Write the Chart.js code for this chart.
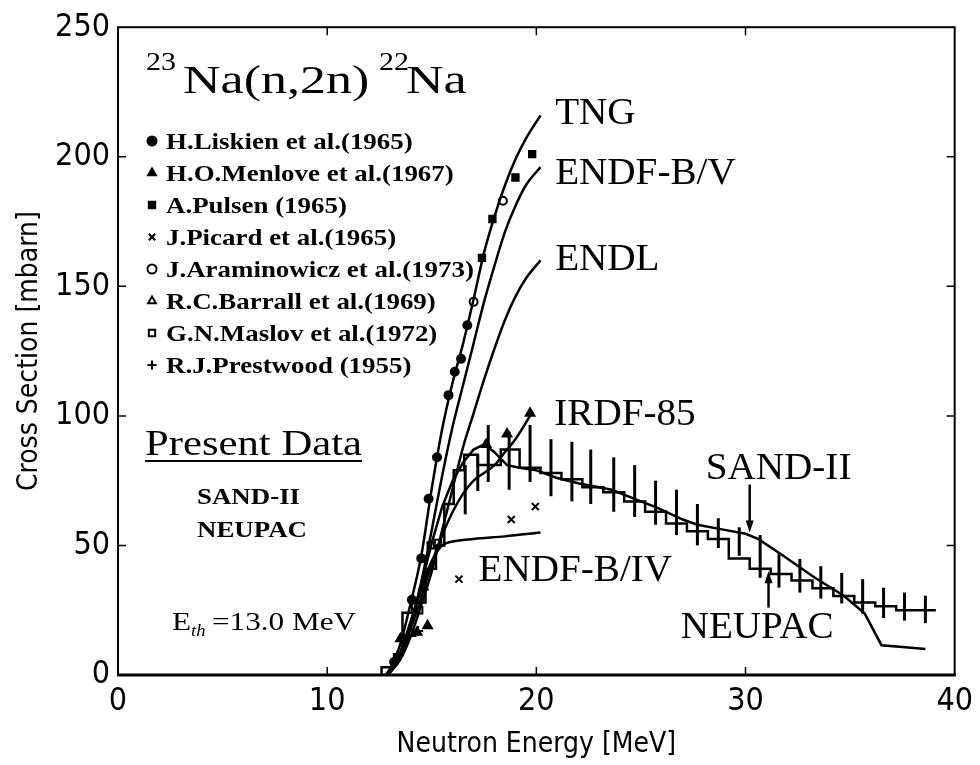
<!DOCTYPE html>
<html>
<head>
<meta charset="utf-8">
<script src="https://cdn.jsdelivr.net/npm/chart.js@4.4.1/dist/chart.umd.min.js"></script>
<style>
  html, body { margin: 0; padding: 0; background: #fff; }
</style>
</head>
<body>
<canvas id="chart" width="980" height="765"></canvas>
<script>
// axis ticks
const xTicks = [0, 10, 20, 30, 40];
const yTicks = [0, 50, 100, 150, 200, 250];

// evaluated curves (energy in MeV, cross section in mbarn)
const tngE = [12.9, 13.5, 14, 14.5, 15, 15.5, 16, 16.5, 17, 17.5, 18, 18.5, 19, 19.5, 20.2];
const tngXS = [0, 12, 28, 46, 72, 95, 113, 128, 145, 163, 177, 189, 199, 207, 216];

const endfbvE = [12.9, 13.5, 14, 14.5, 15, 15.5, 16, 16.5, 17, 17.5, 18, 18.5, 19, 19.5, 20.2];
const endfbvXS = [0, 8, 20, 36, 56, 77, 96, 112, 128, 144, 158, 171, 181, 189, 196];

const endlE = [12.9, 13.5, 14, 14.5, 15, 15.5, 16, 16.5, 17, 17.5, 18, 18.5, 19, 19.5, 20.2];
const endlXS = [0, 6, 15, 27, 40, 56, 72, 88, 101, 114, 126, 137, 146, 153, 160];

const endfbivE = [12.9, 13.5, 14, 14.5, 15, 15.5, 16, 17, 18.5, 20.2];
const endfbivXS = [0, 9, 21, 33, 44, 50, 51.5, 52.5, 53.5, 55];

const irdfE = [12.9, 13.5, 14, 14.5, 15, 15.5, 16, 16.5, 17, 17.5, 18, 18.5, 19, 19.7];
const irdfXS = [0, 7, 18, 30, 43, 54, 63, 70, 75, 78, 81, 86, 91, 100];

// present data
const sandE = [12.8, 13.5, 14, 14.5, 15, 15.5, 16, 16.5, 17, 17.5, 18, 18.6, 19.2, 20, 21, 22, 23.6, 25, 25.8, 27, 27.7, 29, 30, 30.6, 31.7, 33.3, 34.7, 35.7, 36.5, 37.5, 38.6];
const sandXS = [0, 8, 20, 35, 51, 65, 75, 82, 87, 89, 86, 81, 80, 79, 76, 74, 71.5, 67, 64.5, 60, 58, 56, 54.5, 52.5, 46.6, 37.6, 30.6, 23.7, 11.5, 10.8, 10];

// NEUPAC histogram: lower bin edges and bin values
const neupacEdges = [12.6, 13.2, 13.6, 14.05, 14.7, 15.2, 15.6, 16.05, 16.55, 17.2, 18.3, 19.2, 20.2, 21.2, 22.2, 23.2, 24.2, 25.2, 26.2, 27.2, 28.2, 29.2, 30.2, 31.2, 32.2, 33.2, 34.2, 35.2, 36.2, 37.2, 38.2, 39.1];
const neupacXS = [0, 3, 8, 24, 28, 41, 50, 66, 79, 85, 81, 87, 80, 78, 75.5, 72.5, 70.5, 67, 63, 58.5, 55.5, 52.5, 45, 41, 39, 36.5, 33.5, 30.5, 28, 26.5, 25, 25];

const errE = [16.6, 17.2, 17.7, 18.7, 19.7, 20.7, 21.7, 22.6, 23.7, 24.7, 25.7, 26.7, 27.7, 28.7, 29.7, 30.7, 31.6, 32.6, 33.6, 34.6, 35.6, 36.6, 37.6, 38.6];
const errLo = [62, 71, 74.5, 71.5, 74.5, 69, 67, 66, 63, 61, 58, 54, 50, 49, 46, 37.5, 33.7, 31.8, 29.5, 27.6, 23.7, 22, 21, 20];
const errHi = [81, 85, 96.5, 94, 96.5, 91, 90, 87, 84, 81, 75, 71.5, 66, 60.5, 57, 54, 47, 44.8, 42, 39.4, 37, 33.7, 31.8, 30.6];

// experimental points
const liskienE = [13.2, 13.7, 14.05, 14.5, 14.85, 15.25, 15.8, 16.1, 16.4, 16.7];
const liskienXS = [5, 14, 29, 45, 68, 84, 108, 117, 122, 135];
const menloveE = [13.5, 14.3, 14.8, 17.6, 18.6, 19.7];
const menloveXS = [14, 16.5, 19, 89, 93, 101];
const pulsenE = [17.4, 17.9, 19.0, 19.8];
const pulsenXS = [161, 176, 192, 201];
const picardE = [16.3, 18.8, 19.95];
const picardXS = [37, 60, 65];
const araminE = [17.0, 18.4];
const araminXS = [144, 183];
const barrallE = [14.0, 14.6];
const barrallXS = [16, 34];
const maslovE = [14.4, 14.95, 15.3];
const maslovXS = [25, 50, 51];
const prestwoodE = [13.6, 14.35];
const prestwoodXS = [14, 17];

const legendRefs = [
  ["H.Liskien et al.(1965)", "circle", true],
  ["H.O.Menlove et al.(1967)", "triangle", true],
  ["A.Pulsen (1965)", "rect", true],
  ["J.Picard et al.(1965)", "crossRot", false],
  ["J.Araminowicz et al.(1973)", "circle", false],
  ["R.C.Barrall et al.(1969)", "triangle", false],
  ["G.N.Maslov et al.(1972)", "rect", false],
  ["R.J.Prestwood (1955)", "cross", false]
];

function pts(xs, ys) {
  return xs.map((v, i) => ({ x: v, y: ys[i] }));
}

const SERIF = '"Liberation Serif", "Times New Roman", serif';
const PLOT = '"DejaVu Sans Condensed", "Liberation Sans Narrow", "DejaVu Sans", sans-serif';

function curve(label, xs, ys, smooth) {
  const ds = {
    label, data: pts(xs, ys), showLine: true, pointRadius: 0,
    borderColor: '#000', borderWidth: 2.5
  };
  if (smooth) ds.cubicInterpolationMode = 'monotone';
  return ds;
}

function marks(label, xs, ys, style, filled, r) {
  return {
    label, data: pts(xs, ys), showLine: false, pointStyle: style,
    pointRadius: r, pointBorderWidth: 2, borderColor: '#000',
    backgroundColor: filled ? '#000' : '#fff'
  };
}

function txt(ctx, s, px, py, font, sx) {
  ctx.save();
  ctx.font = font;
  ctx.translate(px, py);
  ctx.scale(sx, 1);
  ctx.fillText(s, 0, 0);
  const w = ctx.measureText(s).width * sx;
  ctx.restore();
  return w;
}

function arrow(ctx, px, y1, y2) {
  const dir = y2 > y1 ? 1 : -1;
  ctx.beginPath();
  ctx.moveTo(px, y1);
  ctx.lineTo(px, y2 - dir * 8);
  ctx.stroke();
  ctx.beginPath();
  ctx.moveTo(px, y2);
  ctx.lineTo(px - 4, y2 - dir * 12);
  ctx.lineTo(px + 4, y2 - dir * 12);
  ctx.closePath();
  ctx.fill();
}

const overlay = {
  id: 'overlay',
  afterDatasetsDraw(chart) {
    const { ctx, chartArea: a, scales: { x, y } } = chart;
    ctx.save();
    ctx.strokeStyle = '#000';
    ctx.fillStyle = '#000';

    // NEUPAC error bars
    ctx.lineWidth = 3;
    errE.forEach((e, i) => {
      const px = x.getPixelForValue(e);
      ctx.beginPath();
      ctx.moveTo(px, y.getPixelForValue(errLo[i]));
      ctx.lineTo(px, y.getPixelForValue(errHi[i]));
      ctx.stroke();
    });

    // arrows
    ctx.lineWidth = 2.5;
    arrow(ctx, x.getPixelForValue(30.2), y.getPixelForValue(73.5), y.getPixelForValue(55));
    arrow(ctx, x.getPixelForValue(31.1), y.getPixelForValue(26), y.getPixelForValue(40));

    // frame + inward ticks
    ctx.lineWidth = 2;
    ctx.strokeRect(a.left, a.top, a.right - a.left, a.bottom - a.top);
    ctx.lineWidth = 3;
    ctx.beginPath(); ctx.moveTo(a.left - 1, a.bottom); ctx.lineTo(a.right + 1, a.bottom); ctx.stroke();
    ctx.lineWidth = 1.5;
    ctx.beginPath();
    xTicks.slice(1, -1).forEach(v => {
      const px = x.getPixelForValue(v);
      ctx.moveTo(px, a.bottom); ctx.lineTo(px, a.bottom - 8);
      ctx.moveTo(px, a.top); ctx.lineTo(px, a.top + 8);
    });
    yTicks.slice(1, -1).forEach(v => {
      const py = y.getPixelForValue(v);
      ctx.moveTo(a.left, py); ctx.lineTo(a.left + 8, py);
      ctx.moveTo(a.right, py); ctx.lineTo(a.right - 8, py);
    });
    ctx.stroke();

    // title
    ctx.textBaseline = 'alphabetic';
    txt(ctx, '23', 146, 70, '25px ' + SERIF, 1.2);
    txt(ctx, 'Na(n,2n)', 183, 93, '40px ' + SERIF, 1.3);
    txt(ctx, '22', 379, 70, '25px ' + SERIF, 1.2);
    txt(ctx, 'Na', 406, 93, '40px ' + SERIF, 1.3);

    // reference list
    legendRefs.forEach((r, i) => {
      const cy = 141 + 32 * i;
      ctx.lineWidth = 2;
      ctx.fillStyle = r[2] ? '#000' : '#fff';
      Chart.helpers.drawPoint(ctx, { pointStyle: r[1], radius: 4.5, borderWidth: 2 }, 152, cy);
      ctx.fillStyle = '#000';
      txt(ctx, r[0], 166, cy + 8, 'bold 23px ' + SERIF, 1.17);
    });

    // present data block
    txt(ctx, 'Present Data', 145, 455, '35px ' + SERIF, 1.22);
    ctx.lineWidth = 2;
    ctx.beginPath(); ctx.moveTo(145, 461); ctx.lineTo(362, 461); ctx.stroke();
    txt(ctx, 'SAND-II', 197, 504, 'bold 24px ' + SERIF, 1.12);
    txt(ctx, 'NEUPAC', 197, 537, 'bold 24px ' + SERIF, 1.12);
    const w = txt(ctx, 'E', 172, 630, '26px ' + SERIF, 1.2);
    txt(ctx, 'th', 172 + w, 636, 'italic 17px ' + SERIF, 1.1);
    txt(ctx, '=13.0 MeV', 212, 630, '26px ' + SERIF, 1.2);

    // curve labels
    const lab = '38px ' + SERIF;
    [['TNG', 20.9, 212.5], ['ENDF-B/V', 20.9, 189.5], ['ENDL', 20.9, 156.2],
     ['IRDF-85', 20.86, 96.5], ['SAND-II', 28.1, 75.8], ['ENDF-B/IV', 17.24, 36.4],
     ['NEUPAC', 26.9, 14.2]].forEach(l => {
      txt(ctx, l[0], x.getPixelForValue(l[1]), y.getPixelForValue(l[2]), lab, 1.03);
    });
    ctx.restore();
  }
};

new Chart(document.getElementById('chart'), {
  type: 'scatter',
  data: {
    datasets: [
      curve('TNG', tngE, tngXS, true),
      curve('ENDF-B/V', endfbvE, endfbvXS, true),
      curve('ENDL', endlE, endlXS, true),
      curve('ENDF-B/IV', endfbivE, endfbivXS, true),
      curve('IRDF-85', irdfE, irdfXS, true),
      curve('SAND-II', sandE, sandXS, false),
      { label: 'NEUPAC', data: pts(neupacEdges, neupacXS), showLine: true, stepped: 'after',
        pointRadius: 0, borderColor: '#000', borderWidth: 2.5 },
      marks('Liskien', liskienE, liskienXS, 'circle', true, 4),
      marks('Menlove', menloveE, menloveXS, 'triangle', true, 5),
      marks('Pulsen', pulsenE, pulsenXS, 'rect', true, 4.5),
      marks('Picard', picardE, picardXS, 'crossRot', false, 5),
      marks('Araminowicz', araminE, araminXS, 'circle', false, 4),
      marks('Barrall', barrallE, barrallXS, 'triangle', false, 5),
      marks('Maslov', maslovE, maslovXS, 'rect', false, 4.5),
      marks('Prestwood', prestwoodE, prestwoodXS, 'cross', false, 5)
    ]
  },
  options: {
    responsive: false,
    animation: false,
    layout: { padding: { top: 22, right: 22, left: 0, bottom: 0 } },
    plugins: { legend: { display: false }, tooltip: { enabled: false } },
    scales: {
      x: {
        type: 'linear', min: 0, max: 40,
        afterBuildTicks: s => { s.ticks = xTicks.map(v => ({ value: v })); },
        afterFit: s => { s.height = 90; },
        grid: { display: false, drawTicks: false },
        border: { display: false },
        ticks: { color: '#000', padding: 7, font: { family: PLOT, size: 32 } },
        title: { display: true, text: 'Neutron Energy [MeV]', color: '#000',
                 font: { family: PLOT, size: 28 }, padding: { top: 0, bottom: 3 } }
      },
      y: {
        min: 0, max: 250,
        afterBuildTicks: s => { s.ticks = yTicks.map(v => ({ value: v })); },
        afterFit: s => { s.width = 118; },
        grid: { display: false, drawTicks: false },
        border: { display: false },
        ticks: { color: '#000', padding: 8, font: { family: PLOT, size: 32 } },
        title: { display: true, text: 'Cross Section [mbarn]', color: '#000',
                 font: { family: PLOT, size: 28 }, padding: { top: 13, bottom: 0 } }
      }
    }
  },
  plugins: [overlay]
});
</script>
</body>
</html>
